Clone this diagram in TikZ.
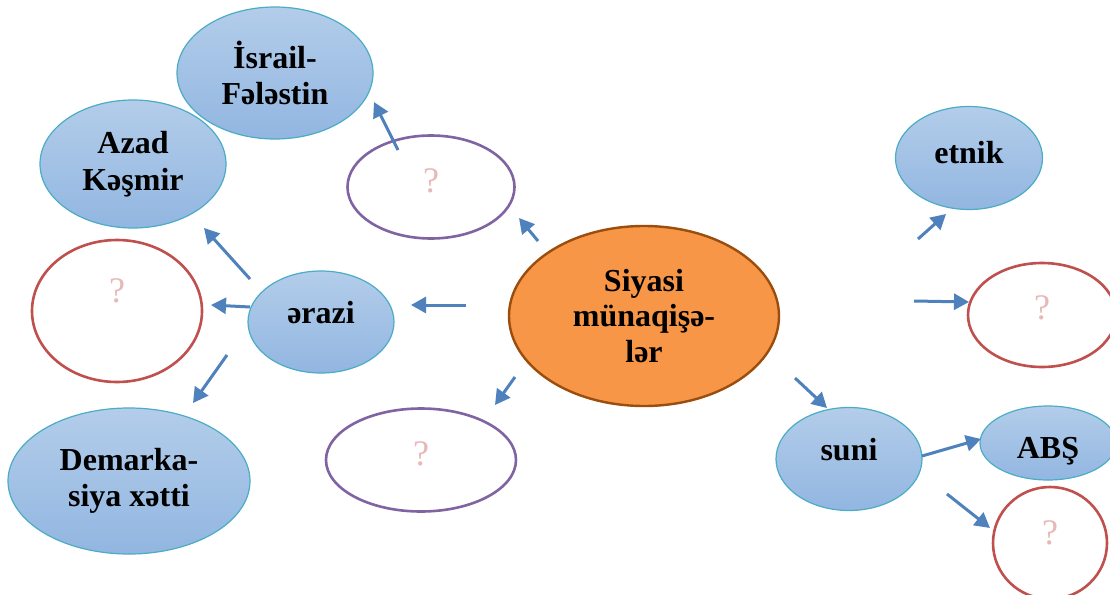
\documentclass[tikz,border=0pt]{standalone}
\usepackage{fontspec}
\setmainfont{Liberation Serif}
\usetikzlibrary{arrows.meta,shapes.geometric}
\definecolor{blueTop}{HTML}{B3CDEA}
\definecolor{blueBot}{HTML}{92B6E1}
\definecolor{blueLine}{HTML}{4BACC6}
\definecolor{orangeFill}{HTML}{F79646}
\definecolor{orangeLine}{HTML}{9A4D0C}
\definecolor{purpleLine}{HTML}{8064A2}
\definecolor{redLine}{HTML}{C0504D}
\definecolor{qColor}{HTML}{E6B9B8}
\definecolor{arrowBlue}{HTML}{4F81BD}
\tikzset{
  bluebox/.style={ellipse, draw=blueLine, line width=1.2pt, top color=blueTop, bottom color=blueBot,
    inner sep=0pt, align=center, font=\fontsize{32}{36.5}\selectfont\bfseries, text=black},
  centerbox/.style={ellipse, draw=orangeLine, line width=2.4pt, fill=orangeFill,
    inner sep=0pt, align=center, font=\fontsize{32}{35.5}\selectfont\bfseries, text=black},
  qbox/.style={ellipse, line width=2.6pt, fill=white, inner sep=0pt,
    font=\fontsize{36}{40}\selectfont, text=qColor},
  purplebox/.style={qbox, draw=purpleLine},
  redbox/.style={qbox, draw=redLine},
  arr/.style={draw=arrowBlue, line width=3pt, -{Triangle[length=15pt,width=16pt]}}
}
\begin{document}
\begin{tikzpicture}[x=1pt,y=-1pt]
\useasboundingbox (0,0) rectangle (1110,594);
\clip (0,0) rectangle (1110,594);
\fill[white] (0,0) rectangle (1110,594);

% nodes
\node[centerbox, minimum width=270pt, minimum height=180pt] (cen) at (644,316) {Siyasi\\münaqişə-\\lər};
\node[bluebox, minimum width=146pt, minimum height=102pt, text height=2pt, text depth=0pt] (erazi) at (321,322) {ərazi};
\node[bluebox, minimum width=196pt, minimum height=132pt] (isr) at (275,73) {İsrail-\\Fələstin};
\node[bluebox, minimum width=186pt, minimum height=128pt] (azad) at (133,164) {Azad\\Kəşmir};
\node[bluebox, minimum width=242pt, minimum height=146pt] (dem) at (129,481) {Demarka-\\siya xətti};
\node[redbox, minimum width=170pt, minimum height=142pt, text height=0pt, text depth=17pt] (rL) at (117,311) {?};
\node[purplebox, minimum width=167pt, minimum height=103pt, text height=11pt, text depth=0pt] (pT) at (431,187) {?};
\node[purplebox, minimum width=190pt, minimum height=103pt, text height=11pt, text depth=0pt] (pB) at (421,460) {?};
\node[bluebox, minimum width=147pt, minimum height=103pt, text height=10pt, text depth=0pt] (etnik) at (969,158) {etnik};
\node[redbox, minimum width=148pt, minimum height=104pt, text height=9pt, text depth=0pt] (rM) at (1042,315) {?};
\node[bluebox, minimum width=146pt, minimum height=103pt, text height=2pt, text depth=0pt] (suni) at (849,459) {suni};
\node[bluebox, minimum width=136pt, minimum height=74pt, text height=30pt, text depth=0pt] (abs) at (1048,443) {ABŞ};
\node[redbox, minimum width=114pt, minimum height=112pt, text height=3pt, text depth=0pt] (rB) at (1050,543) {?};

% arrow end points
\coordinate (a1s) at (398,150); \coordinate (a1e) at (374,102);
\coordinate (a2s) at (538,241); \coordinate (a2e) at (519,218);
\coordinate (a3s) at (466,305); \coordinate (a3e) at (411,305);
\coordinate (a4s) at (250,279); \coordinate (a4e) at (204,228);
\coordinate (a5s) at (250,307); \coordinate (a5e) at (211,305);
\coordinate (a6s) at (227,355); \coordinate (a6e) at (193,403);
\coordinate (a7s) at (515,377); \coordinate (a7e) at (495,405);
\coordinate (a8s) at (918,239); \coordinate (a8e) at (946,214);
\coordinate (a9s) at (914,301); \coordinate (a9e) at (969,302);
\coordinate (a10s) at (795,378); \coordinate (a10e) at (827,408);
\coordinate (a11s) at (922,456); \coordinate (a11e) at (981,439);
\coordinate (a12s) at (947,494); \coordinate (a12e) at (990,528);

\foreach \i in {1,...,12} {\draw[arr] (a\i s) -- (a\i e);}
\end{tikzpicture}
\end{document}
